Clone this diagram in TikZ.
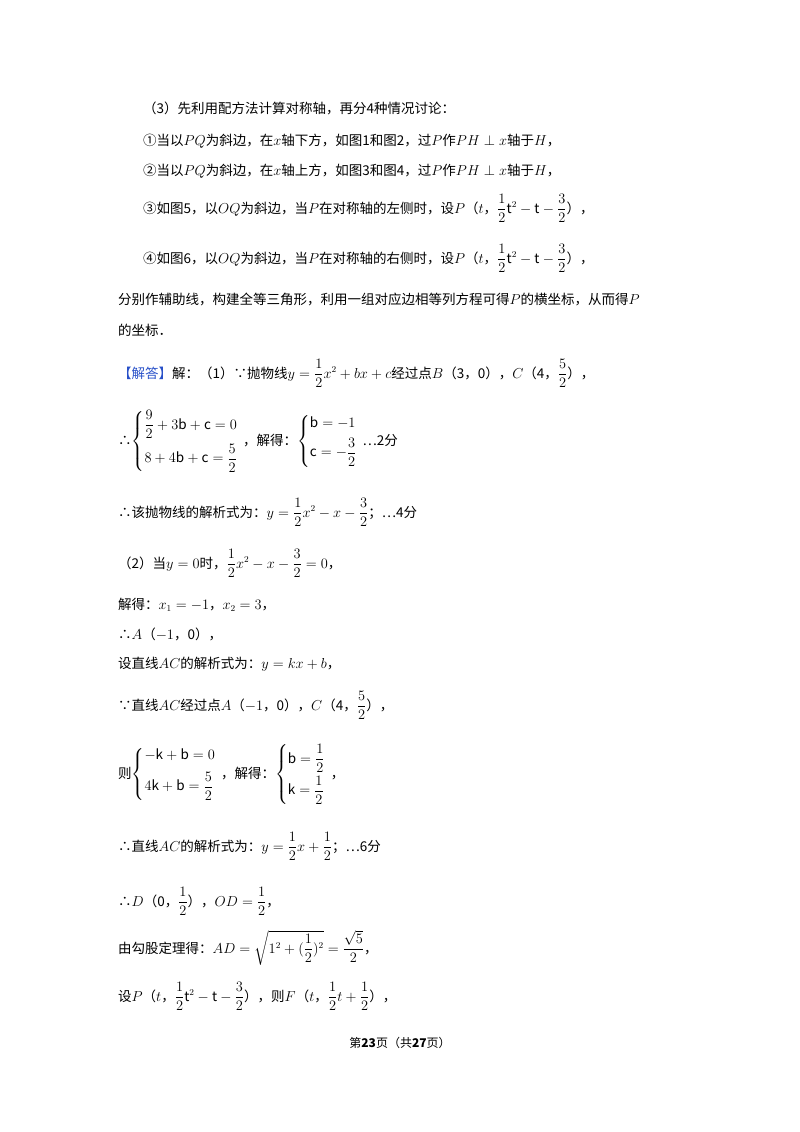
\documentclass[tikz,border=0pt]{standalone}
\usepackage{amsmath}
\usepackage{fontspec}
\setmainfont{Noto Sans CJK SC}
\newfontfamily\serifnum{Liberation Serif}
\definecolor{jieblue}{RGB}{40,80,200}
\tikzset{ln/.style={anchor=base west,inner sep=0pt,font=\fontsize{13.5}{16}\selectfont}}
\newcommand{\hf}[2]{\dfrac{#1}{#2}}
\begin{document}
\begin{tikzpicture}[x=1pt,y=1pt]
\useasboundingbox (0,0) rectangle (800,-1132);
\node[ln] (l1) at (143,-113) {（3）先利用配方法计算对称轴，再分4种情况讨论：};
\node[ln] (l2) at (143,-145) {①当以$PQ$为斜边，在$x$轴下方，如图1和图2，过$P$作$PH\perp x$轴于$H$，};
\node[ln] (l3) at (143,-175) {②当以$PQ$为斜边，在$x$轴上方，如图3和图4，过$P$作$PH\perp x$轴于$H$，};
\node[ln] (l4) at (143,-213) {③如图5，以$OQ$为斜边，当$P$在对称轴的左侧时，设$P$（$t$，$\hf{1}{2}\mathrm{t}^2-\mathrm{t}-\hf{3}{2}$），};
\node[ln] (l5) at (143,-263) {④如图6，以$OQ$为斜边，当$P$在对称轴的右侧时，设$P$（$t$，$\hf{1}{2}\mathrm{t}^2-\mathrm{t}-\hf{3}{2}$），};
\node[ln] (l6) at (118,-304) {分别作辅助线，构建全等三角形，利用一组对应边相等列方程可得$P$的横坐标，从而得$P$};
\node[ln] (l7) at (118,-335) {的坐标．};
\node[ln] (l8) at (118,-378) {\textcolor{jieblue}{【解答】}解：（1）∵抛物线$y=\hf{1}{2}x^2+bx+c$经过点$B$（3，0），$C$（4，$\hf{5}{2}$），};
\node[ln] (l9) at (118,-445) {∴$\left\{\begin{array}{@{}l}\hf{9}{2}+3\mathrm{b}+\mathrm{c}=0\\[10pt] 8+4\mathrm{b}+\mathrm{c}=\hf{5}{2}\end{array}\right.$，解得：$\left\{\begin{array}{@{}l}\mathrm{b}=-1\\[6pt] \mathrm{c}=-\hf{3}{2}\end{array}\right.$…2分};
\node[ln] (l10) at (118,-517) {∴该抛物线的解析式为：$y=\hf{1}{2}x^2-x-\hf{3}{2}$；…4分};
\node[ln] (l11) at (118,-568) {（2）当$y=0$时，$\hf{1}{2}x^2-x-\hf{3}{2}=0$，};
\node[ln] (l12) at (118,-609) {解得：$x_1=-1$，$x_2=3$，};
\node[ln] (l13) at (118,-639) {∴$A$（$-1$，0），};
\node[ln] (l14) at (118,-668) {设直线$AC$的解析式为：$y=kx+b$，};
\node[ln] (l15) at (118,-710) {∵直线$AC$经过点$A$（$-1$，0），$C$（4，$\hf{5}{2}$），};
\node[ln] (l16) at (118,-778) {则$\left\{\begin{array}{@{}l}-\mathrm{k}+\mathrm{b}=0\\[8pt] 4\mathrm{k}+\mathrm{b}=\hf{5}{2}\end{array}\right.$，解得：$\left\{\begin{array}{@{}l}\mathrm{b}=\hf{1}{2}\\[8pt] \mathrm{k}=\hf{1}{2}\end{array}\right.$，};
\node[ln] (l17) at (118,-851) {∴直线$AC$的解析式为：$y=\hf{1}{2}x+\hf{1}{2}$；…6分};
\node[ln] (l18) at (118,-906) {∴$D$（0，$\hf{1}{2}$），$OD=\hf{1}{2}$，};
\node[ln] (l19) at (118,-953) {由勾股定理得：$AD=\sqrt{1^2+(\hf{1}{2})^2}=\hf{\sqrt5}{2}$，};
\node[ln] (l20) at (118,-1001) {设$P$（$t$，$\hf{1}{2}\mathrm{t}^2-\mathrm{t}-\hf{3}{2}$），则$F$（$t$，$\hf{1}{2}t+\hf{1}{2}$），};
\node[anchor=base,inner sep=0pt,font=\fontsize{12}{14}\selectfont] (foot) at (400,-1047) {第\textbf{23}页（共\textbf{27}页）};
\end{tikzpicture}
\end{document}
